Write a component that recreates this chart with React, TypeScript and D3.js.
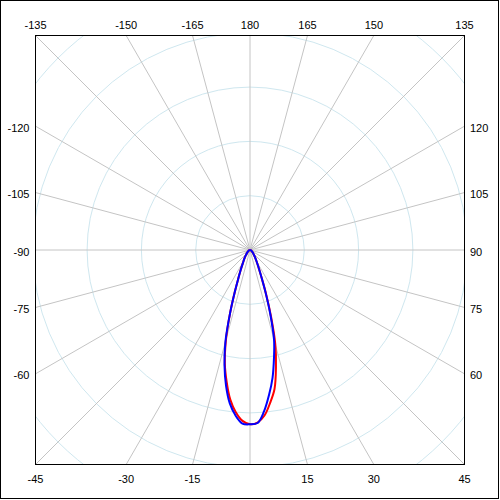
import React from "react";
import * as d3 from "d3";

// Polar angles (degrees, 0 = straight down, positive toward the right)
const angles = [0, 2.5, 5, 7.5, 10, 12.5, 15, 17.5, 20, 22.5, 25, 30, 35, 40, 50, 60, 70, 80, 90];

// Red series (C0 / C180 plane): right half and left half
const redRight = [321, 318, 306, 284, 260, 221, 180, 129, 87, 57, 41, 24, 16, 11, 6, 3, 1, 0, 0];
const redLeft = [321, 315, 300, 278, 247, 214, 171, 122, 81, 55, 41, 24, 17, 11, 6, 3, 1, 0, 0];

// Blue series (C90 / C270 plane)
const blueRight = [321, 319, 298, 269, 239, 204, 171, 125, 85, 57, 41, 24, 16, 11, 6, 3, 1, 0, 0];
const blueLeft = [321, 320, 306, 285, 254, 217, 175, 122, 81, 55, 41, 24, 17, 11, 6, 3, 1, 0, 0];

// Grid
const ringValues = [100, 200, 300, 400, 500];
const spokeAngles = d3.range(-165, 181, 15);
const tickLabels = ["-165", "-150", "-135", "-120", "-105", "-90", "-75", "-60", "-45", "-30", "-15", "0", "15", "30", "45", "60", "75", "90", "105", "120", "135", "150", "165", "180"];

const W = 500;
const cx = 250;
const cy = 250;
const half = 214.5;
const box = { x0: cx - half, y0: cy - half, x1: cx + half, y1: cy + half };

const rScale = d3.scaleLinear().domain([0, 500]).range([0, 271.5]);

function toXY(deg: number, r: number): [number, number] {
  const t = (deg * Math.PI) / 180;
  return [cx + r * Math.sin(t), cy + r * Math.cos(t)];
}

function edgePoint(deg: number): [number, number] {
  const t = (deg * Math.PI) / 180;
  const dx = Math.sin(t);
  const dy = Math.cos(t);
  const s = half / Math.max(Math.abs(dx), Math.abs(dy));
  return [cx + dx * s, cy + dy * s];
}

function seriesPoints(left: number[], right: number[]): [number, number][] {
  const pts: [number, number][] = [];
  for (let i = angles.length - 1; i >= 1; i--) pts.push(toXY(-angles[i], rScale(left[i])));
  pts.push(toXY(0, rScale(right[0])));
  for (let i = 1; i < angles.length; i++) pts.push(toXY(angles[i], rScale(right[i])));
  return pts;
}

const line = d3.line<[number, number]>().curve(d3.curveCatmullRom.alpha(0.5));

export default function App() {
  const font = "'Liberation Sans', Arial, sans-serif";
  const labels = spokeAngles
    .map((a, i) => ({ a, text: tickLabels[i] }))
    .filter((d) => d.a !== 0);

  return (
    <svg width={W} height={W} style={{ position: "absolute", left: 0, top: 0, background: "#fff" }}>
      <defs>
        <clipPath id="plotClip">
          <rect x={box.x0} y={box.y0} width={half * 2} height={half * 2} />
        </clipPath>
      </defs>
      <rect x={0.5} y={0.5} width={498} height={498} fill="#fff" stroke="#000" strokeWidth={1} />
      <g clipPath="url(#plotClip)">
        {ringValues.map((v) => (
          <circle key={v} cx={cx} cy={cy} r={rScale(v)} fill="none" stroke="#cfe7ef" strokeWidth={1} />
        ))}
        {spokeAngles.map((a) => {
          const [x, y] = edgePoint(a);
          return <line key={a} x1={cx} y1={cy} x2={x} y2={y} stroke="#c4c4c4" strokeWidth={1} />;
        })}
      </g>
      <rect x={box.x0} y={box.y0} width={half * 2} height={half * 2} fill="none" stroke="#000" strokeWidth={1} />
      <path d={line(seriesPoints(redLeft, redRight)) || ""} fill="none" stroke="#ff0000" strokeWidth={2} />
      <path d={line(seriesPoints(blueLeft, blueRight)) || ""} fill="none" stroke="#0000ff" strokeWidth={2} />
      {labels.map(({ a, text }) => {
        const [x, y] = edgePoint(a);
        const abs = Math.abs(a);
        let tx = x;
        let ty = y;
        let anchor: "start" | "middle" | "end" = "middle";
        if (abs <= 45) {
          ty = box.y1 + 18;
        } else if (abs >= 135) {
          ty = box.y0 - 6.5;
        } else if (a > 0) {
          tx = box.x1 + 5.5;
          ty = y + 5.5;
          anchor = "start";
        } else {
          tx = box.x0 - 6;
          ty = y + 5.5;
          anchor = "end";
        }
        return (
          <text key={a} x={tx} y={ty} textAnchor={anchor} fontFamily={font} fontSize={11} fill="#000">
            {text}
          </text>
        );
      })}
    </svg>
  );
}
